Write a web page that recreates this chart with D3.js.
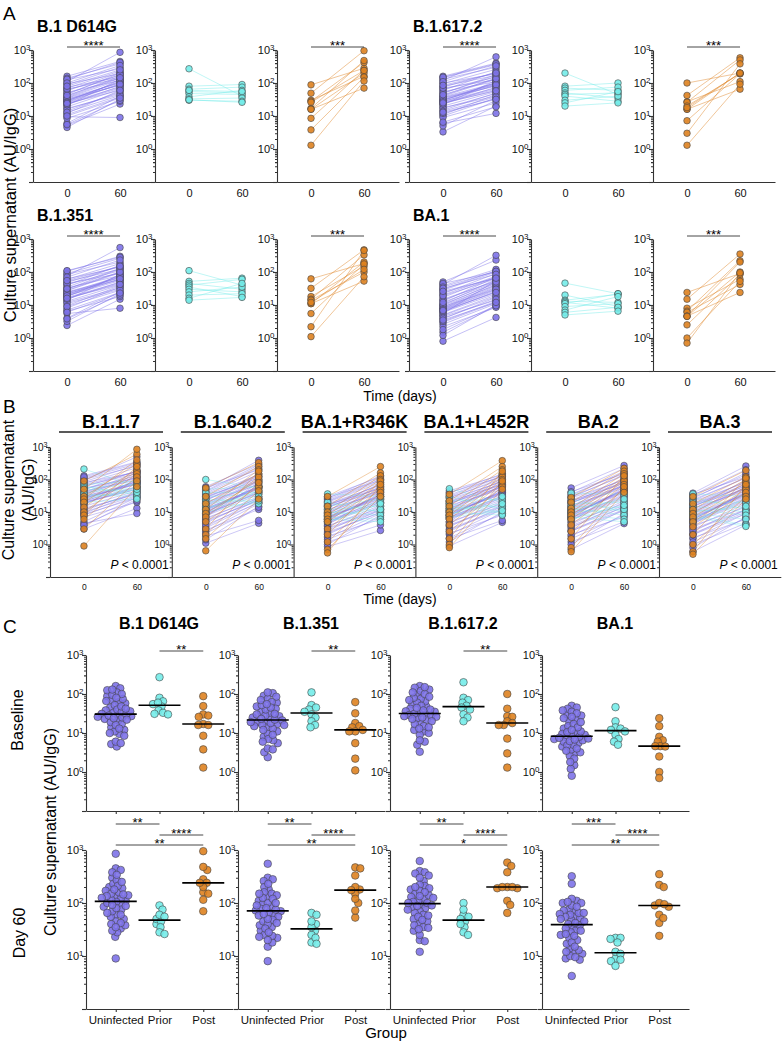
<!DOCTYPE html>
<html>
<head>
<meta charset="utf-8">
<script src="https://cdn.jsdelivr.net/npm/d3@7"></script>
<style>
  body { margin: 0; background: #fff; }
  svg { font-family: "Liberation Sans", Arial, Helvetica, sans-serif; }
  .axis text { font-family: "Liberation Sans", Arial, Helvetica, sans-serif; fill: #111; }
  .axis path, .axis line { stroke: #333; stroke-width: 1.1; }
  .ttl { font-weight: bold; font-size: 16px; }
</style>
</head>
<body>
<svg id="fig" width="784" height="1042"></svg>
<script>
// ---- groups ----
const groups = ["Uninfected", "Prior", "Post"];
const groupColor = ["#7d72e8", "#74ece9", "#de8220"];
const days = [0, 60];

// ---- panel A / C variants (AU/IgG, day 0 and day 60, same subject order) ----
const d614gUninf0 = [29, 160, 12, 45, 5.2, 88, 33, 21, 140, 9.5, 62, 27, 4.5, 110, 38, 17, 70, 25, 6, 52, 31, 14, 125, 40, 23, 8.5, 95, 35, 19, 58, 11, 28, 75, 16, 130, 30, 5.5, 48, 22, 66, 13, 36, 100, 26, 10, 42, 24, 80];
const d614gUninf60 = [110, 450, 60, 200, 23, 300, 85, 130, 380, 9, 170, 95, 33, 850, 140, 45, 230, 75, 40, 120, 105, 55, 270, 160, 70, 28, 190, 100, 65, 210, 38, 115, 150, 50, 420, 88, 30, 180, 80, 135, 42, 125, 340, 92, 35, 145, 60, 250];
const d614gPrior0 = [270, 80, 65, 55, 48, 38, 33, 30, 60, 31];
const d614gPrior60 = [40, 90, 75, 50, 45, 60, 35, 28, 55, 26];
const d614gPost0 = [88, 49, 30, 28, 26, 17, 16, 16, 8.5, 3.8, 1.3];
const d614gPost60 = [280, 950, 160, 420, 240, 480, 70, 200, 240, 150, 115];

const b1351Uninf0 = [20, 105, 8, 35, 2.4, 60, 24, 14, 90, 5.5, 42, 19, 3.2, 75, 27, 11, 48, 17, 4, 33, 21, 9.5, 85, 28, 16, 6.5, 62, 25, 13, 40, 7, 18, 52, 12, 110, 22, 3.8, 30, 15, 45, 9, 23, 70, 19, 6, 31, 16, 55];
const b1351Uninf60 = [70, 300, 35, 130, 15, 180, 60, 85, 260, 8, 110, 55, 22, 550, 95, 30, 150, 48, 25, 78, 72, 38, 200, 100, 45, 18, 140, 66, 40, 160, 24, 80, 120, 33, 280, 58, 20, 125, 50, 90, 28, 75, 230, 62, 23, 100, 42, 150];
const b1351Prior0 = [110, 52, 45, 40, 35, 30, 25, 20, 16, 14];
const b1351Prior60 = [40, 65, 30, 60, 18, 25, 35, 22, 45, 17];
const b1351Post0 = [62, 32, 18, 15, 14, 11, 11, 5.5, 2.2, 1.1, 12];
const b1351Post60 = [180, 470, 150, 330, 100, 200, 53, 175, 450, 72, 120];

const b16172Uninf0 = [30, 160, 11, 48, 3.3, 95, 35, 22, 145, 6, 65, 28, 5, 120, 40, 18, 75, 26, 10, 55, 32, 15, 130, 42, 24, 9, 100, 36, 20, 60, 12, 29, 80, 17, 150, 31, 6.5, 50, 23, 70, 14, 38, 110, 27, 13, 44, 25, 85];
const b16172Uninf60 = [95, 400, 45, 180, 20, 260, 80, 120, 360, 12, 150, 70, 30, 620, 130, 40, 210, 65, 35, 110, 100, 50, 300, 140, 60, 25, 190, 90, 55, 220, 34, 105, 170, 48, 380, 85, 19, 160, 75, 125, 38, 100, 330, 88, 32, 135, 58, 200];
const b16172Prior0 = [200, 80, 70, 60, 50, 45, 40, 30, 25, 20];
const b16172Prior60 = [45, 100, 60, 75, 35, 50, 28, 40, 55, 25];
const b16172Post0 = [100, 42, 27, 26, 20, 16, 16, 7.2, 3, 1.3, 18];
const b16172Post60 = [200, 580, 110, 500, 190, 200, 65, 190, 380, 92, 200];

const ba1Uninf0 = [7.8, 50, 3, 13, 0.8, 30, 9, 5.5, 42, 1.5, 20, 7, 1.2, 38, 10, 4.5, 22, 6.5, 2.6, 15, 8, 3.8, 45, 11, 6, 2.2, 28, 9.5, 5, 17, 3.2, 7.5, 24, 4.8, 35, 8.5, 1.8, 14, 6.2, 19, 4, 10.5, 32, 7.2, 3.5, 12, 6.8, 26];
const ba1Uninf60 = [35, 230, 12, 70, 4.2, 110, 30, 55, 320, 9, 75, 28, 10, 120, 48, 14, 90, 25, 11, 52, 38, 17, 100, 60, 22, 8.5, 100, 40, 20, 72, 13, 33, 65, 18, 105, 42, 9.5, 55, 26, 62, 15, 45, 85, 30, 12, 50, 24, 65];
const ba1Prior0 = [46, 20, 14, 13, 12, 11, 9, 7, 6, 5];
const ba1Prior60 = [22, 9, 21, 12, 8, 22, 11, 18, 8.5, 6.5];
const ba1Post0 = [24, 15, 8, 6.5, 6, 4.6, 4.6, 4.5, 2.5, 1, 0.7];
const ba1Post60 = [90, 350, 60, 220, 42, 200, 24, 100, 85, 52, 95];

// ---- panel B variants ----
const b117Uninf0 = [25, 130, 9, 40, 3, 75, 28, 17, 110, 4.5, 50, 22, 3.8, 95, 32, 13, 60, 20, 5, 44, 26, 11, 100, 35, 19, 7, 80, 30, 15, 48, 8, 23, 65, 12, 120, 27, 4, 38, 18, 55, 10, 30, 85, 21, 8.5, 36, 20, 70];
const b117Uninf60 = [80, 350, 40, 160, 13, 230, 70, 100, 300, 9, 130, 60, 25, 500, 110, 35, 180, 55, 28, 95, 85, 42, 260, 120, 50, 20, 170, 75, 45, 190, 30, 90, 150, 38, 330, 72, 22, 140, 60, 110, 32, 85, 280, 78, 27, 120, 50, 170];
const b117Prior0 = [210, 70, 60, 55, 50, 40, 35, 30, 25, 20];
const b117Prior60 = [60, 90, 35, 70, 45, 55, 30, 40, 50, 25];
const b117Post0 = [90, 50, 30, 25, 20, 14, 10, 8, 6, 3, 0.9];
const b117Post60 = [600, 850, 300, 400, 200, 180, 150, 250, 120, 90, 60];

const b16402Uninf0 = [10, 60, 3.5, 18, 1.1, 35, 12, 7, 50, 1.8, 25, 9, 1.4, 42, 14, 5.5, 28, 8.5, 2.5, 20, 11, 4.5, 55, 15, 7.5, 2.8, 32, 13, 6, 22, 3.2, 10, 30, 6.5, 45, 12, 2.2, 17, 8, 24, 5, 12.5, 38, 9.5, 4, 16, 8.8, 27];
const b16402Uninf60 = [60, 300, 25, 120, 4.5, 180, 50, 80, 390, 5.5, 100, 45, 15, 250, 75, 22, 130, 40, 18, 70, 62, 28, 200, 85, 35, 12, 140, 55, 30, 150, 20, 65, 110, 26, 280, 52, 14, 95, 42, 90, 24, 60, 220, 58, 19, 88, 38, 125];
const b16402Prior0 = [100, 50, 40, 30, 25, 20, 18, 15, 12, 10];
const b16402Prior60 = [55, 60, 40, 35, 20, 30, 25, 18, 45, 22];
const b16402Post0 = [55, 30, 18, 12, 9, 7, 5, 3, 2, 1.5, 0.64];
const b16402Post60 = [330, 250, 150, 200, 100, 120, 60, 180, 80, 45, 25];

const r346kUninf0 = [6, 30, 2, 11, 0.85, 20, 7, 4, 26, 1.2, 14, 5.5, 1, 24, 8, 3.2, 16, 5, 1.6, 12, 6.5, 2.6, 28, 9, 4.5, 1.8, 18, 7.5, 3.6, 13, 2.2, 6.2, 17, 3.8, 22, 7.2, 1.4, 10, 5, 15, 3, 8.5, 21, 5.8, 2.4, 9.5, 4.8, 16];
const r346kUninf60 = [30, 120, 12, 60, 2.7, 80, 25, 40, 130, 4, 55, 22, 8, 110, 42, 12, 70, 20, 9, 38, 32, 15, 95, 48, 18, 6, 65, 28, 16, 75, 10, 35, 52, 13, 100, 26, 7, 50, 24, 45, 11, 30, 90, 34, 9.5, 44, 20, 58];
const r346kPrior0 = [36, 20, 15, 12, 10, 9, 8, 7, 6, 5];
const r346kPrior60 = [30, 10, 25, 15, 8, 20, 12, 6, 5, 18];
const r346kPost0 = [30, 15, 10, 8, 6, 5, 3, 2, 1.2, 0.7, 0.55];
const r346kPost60 = [250, 160, 130, 100, 80, 60, 50, 90, 40, 30, 70];

const l452rUninf0 = [8, 45, 2.5, 14, 0.9, 28, 9.5, 5, 38, 1.5, 18, 7, 1.2, 33, 11, 4, 22, 6.5, 2, 16, 8.5, 3.5, 40, 12, 6, 2.2, 25, 10, 4.5, 17, 3, 7.8, 21, 5, 30, 9, 1.6, 13, 6.8, 19, 3.8, 11, 27, 7.4, 2.8, 12.5, 6.2, 20];
const l452rUninf60 = [40, 140, 15, 80, 4.8, 100, 35, 55, 150, 5.5, 70, 30, 10, 130, 60, 16, 90, 28, 12, 50, 42, 20, 120, 65, 24, 8, 85, 38, 22, 95, 13, 45, 70, 18, 125, 36, 9, 65, 32, 58, 15, 40, 110, 46, 12, 60, 27, 75];
const l452rPrior0 = [52, 30, 22, 18, 15, 13, 11, 10, 8, 7];
const l452rPrior60 = [20, 12, 25, 10, 9, 15, 18, 8, 30, 11];
const l452rPost0 = [35, 22, 15, 10, 8, 6, 4, 2.5, 1.5, 1, 0.8];
const l452rPost60 = [380, 250, 200, 150, 120, 100, 80, 60, 180, 90, 50];

const ba2Uninf0 = [8, 55, 2.5, 15, 0.7, 30, 9, 5, 40, 1.2, 19, 7, 1, 35, 11, 3.8, 23, 6.5, 1.8, 16, 8.5, 3.2, 42, 12, 5.8, 2, 27, 10, 4.2, 18, 2.8, 7.6, 22, 4.8, 32, 9.2, 1.5, 14, 6.6, 20, 3.5, 11, 28, 7.2, 2.6, 13, 6, 21];
const ba2Uninf60 = [45, 270, 15, 90, 4.4, 130, 38, 60, 220, 5, 80, 32, 9, 160, 65, 16, 100, 30, 12, 55, 48, 20, 150, 70, 25, 7, 95, 42, 22, 110, 12, 50, 75, 18, 180, 40, 8, 70, 35, 62, 14, 45, 140, 52, 11, 65, 28, 85];
const ba2Prior0 = [38, 25, 18, 15, 13, 11, 10, 9, 7, 6];
const ba2Prior60 = [35, 10, 20, 14, 8, 25, 12, 6, 5, 16];
const ba2Post0 = [28, 20, 13, 10, 8, 6, 4, 2.5, 1.5, 0.8, 0.6];
const ba2Post60 = [220, 180, 150, 120, 100, 90, 70, 50, 130, 60, 40];

const ba3Uninf0 = [6, 38, 2, 12, 0.6, 24, 7, 4, 33, 1, 15, 5.5, 0.8, 28, 9, 3, 18, 5, 1.5, 13, 6.5, 2.5, 35, 10, 4.5, 1.6, 21, 8, 3.4, 14, 2.2, 6, 17, 3.8, 26, 7.4, 1.2, 11, 5.2, 16, 2.8, 8.8, 22, 5.8, 2, 10, 4.8, 17.5];
const ba3Uninf60 = [35, 260, 12, 75, 4, 110, 30, 48, 200, 4.5, 65, 26, 7, 140, 52, 12, 85, 24, 9, 45, 38, 16, 120, 58, 20, 6, 80, 34, 18, 95, 10, 40, 62, 14, 160, 32, 6.5, 58, 28, 50, 11, 36, 115, 42, 9, 55, 22, 70];
const ba3Prior0 = [36, 28, 20, 15, 12, 10, 9, 8, 7, 5];
const ba3Prior60 = [30, 12, 20, 10, 8, 15, 6, 4, 3.6, 25];
const ba3Post0 = [30, 18, 12, 9, 7, 5, 3.5, 2, 1, 0.6, 0.5];
const ba3Post60 = [190, 120, 100, 80, 60, 50, 40, 110, 30, 70, 25];

// significance labels
const aStars = ["****", null, "***"];
const cTopStars = ["**", "**", "**", null];
const cBottomStars = [["**", "****", "**"], ["**", "****", "**"], ["**", "****", "*"], ["***", "****", "**"]];

// tables built from the arrays above
const mainVariants = [
  { name: "B.1 D614G", sets: [[d614gUninf0, d614gUninf60], [d614gPrior0, d614gPrior60], [d614gPost0, d614gPost60]] },
  { name: "B.1.351", sets: [[b1351Uninf0, b1351Uninf60], [b1351Prior0, b1351Prior60], [b1351Post0, b1351Post60]] },
  { name: "B.1.617.2", sets: [[b16172Uninf0, b16172Uninf60], [b16172Prior0, b16172Prior60], [b16172Post0, b16172Post60]] },
  { name: "BA.1", sets: [[ba1Uninf0, ba1Uninf60], [ba1Prior0, ba1Prior60], [ba1Post0, ba1Post60]] }
];
const otherVariants = [
  { name: "B.1.1.7", sets: [[b117Uninf0, b117Uninf60], [b117Prior0, b117Prior60], [b117Post0, b117Post60]] },
  { name: "B.1.640.2", sets: [[b16402Uninf0, b16402Uninf60], [b16402Prior0, b16402Prior60], [b16402Post0, b16402Post60]] },
  { name: "BA.1+R346K", sets: [[r346kUninf0, r346kUninf60], [r346kPrior0, r346kPrior60], [r346kPost0, r346kPost60]] },
  { name: "BA.1+L452R", sets: [[l452rUninf0, l452rUninf60], [l452rPrior0, l452rPrior60], [l452rPost0, l452rPost60]] },
  { name: "BA.2", sets: [[ba2Uninf0, ba2Uninf60], [ba2Prior0, ba2Prior60], [ba2Post0, ba2Post60]] },
  { name: "BA.3", sets: [[ba3Uninf0, ba3Uninf60], [ba3Prior0, ba3Prior60], [ba3Post0, ba3Post60]] }
];

const svg = d3.select("#fig");
const xDom = [-38.5, 99.6];   // day axis extent so 0 and 60 sit inside the panel

// log y axis with minor ticks and 10^n labels
function logAxis(g, y, lo, hi, labelFrom, fs) {
  const minor = [];
  for (let e = lo; e < hi; e++) for (let k = 2; k <= 9; k++) minor.push(k * Math.pow(10, e));
  g.append("g").attr("class", "axis")
    .call(d3.axisLeft(y).tickValues(minor).tickSize(2).tickFormat(""))
    .select(".domain").remove();
  const major = d3.range(lo, hi + 1).map(e => Math.pow(10, e));
  const ax = g.append("g").attr("class", "axis")
    .call(d3.axisLeft(y).tickValues(major).tickSize(4).tickSizeOuter(0).tickPadding(-1.5));
  ax.attr("font-size", fs);
  ax.selectAll("text").text(null).each(function (d) {
    const e = Math.round(Math.log10(d));
    if (e < labelFrom) return;
    const t = d3.select(this);
    t.append("tspan").text("10");
    t.append("tspan").attr("dy", "-0.45em").attr("font-size", "0.72em").text(e);
  });
}

function dots(g, pts, color, r) {
  g.selectAll(null).data(pts).join("circle")
    .attr("cx", d => d[0]).attr("cy", d => d[1]).attr("r", r)
    .attr("fill", color).attr("fill-opacity", 0.9)
    .attr("stroke", "#444").attr("stroke-width", 0.6);
}

function pairLines(g, x, y, v0, v60, color, w, op) {
  g.selectAll(null).data(v0.map((v, i) => [v, v60[i]])).join("line")
    .attr("x1", x(0)).attr("x2", x(60))
    .attr("y1", d => y(d[0])).attr("y2", d => y(d[1]))
    .attr("stroke", color).attr("stroke-width", w).attr("stroke-opacity", op);
}

function bracket(g, x1, x2, yy, label) {
  g.append("line").attr("x1", x1).attr("x2", x2).attr("y1", yy).attr("y2", yy)
    .attr("stroke", "#333").attr("stroke-width", 0.9);
  g.append("text").attr("x", (x1 + x2) / 2).attr("y", yy + 2.5)
    .attr("text-anchor", "middle").attr("font-size", 13).text(label);
}

// ================= Panel A =================
svg.append("text").attr("x", 3).attr("y", 20).attr("font-size", 19).text("A");
const aX = [33, 409], aTop = [50, 239], aDec = 33, aW = 122;
mainVariants.forEach((v, vi) => {
  const [col, row] = [[0, 0], [0, 1], [1, 0], [1, 1]][vi];
  const ax0 = aX[col], top = aTop[row], bottom = top + 4 * aDec;
  const y = d3.scaleLog().domain([0.1, 1000]).range([bottom, top]);
  svg.append("text").attr("class", "ttl").attr("x", ax0 + 4).attr("y", top - 18).text(v.name);
  v.sets.forEach((s, k) => {
    const ax = ax0 + k * aW;
    const x = d3.scaleLinear().domain(xDom).range([ax, ax + aW]);
    const g = svg.append("g");
    g.append("g").attr("class", "axis").attr("transform", `translate(0,${bottom})`)
      .call(d3.axisBottom(x).tickValues(days).tickSize(0).tickSizeOuter(0).tickPadding(7))
      .attr("font-size", 11);
    logAxis(g.append("g").attr("transform", `translate(${ax},0)`), y, -1, 3, 0, 11);
    pairLines(g, x, y, s[0], s[1], groupColor[k], 0.7, 0.65);
    dots(g, s[0].map(d => [x(0), y(d)]).concat(s[1].map(d => [x(60), y(d)])), groupColor[k], 3.3);
    if (aStars[k]) bracket(g, x(0), x(60), top - 3, aStars[k]);
  });
});
svg.append("text").attr("transform", "translate(16,215) rotate(-90)").attr("text-anchor", "middle")
  .attr("font-size", 16.5).text("Culture supernatant (AU/IgG)");
svg.append("text").attr("x", 400).attr("y", 401).attr("text-anchor", "middle").attr("font-size", 14).text("Time (days)");

// ================= Panel B =================
svg.append("text").attr("x", 3).attr("y", 413).attr("font-size", 19).text("B");
const bX0 = 50, bStep = 121.8, bTop = 447, bDec = 32.5;
otherVariants.forEach((v, i) => {
  const ax = bX0 + i * bStep, bottom = bTop + 4 * bDec;
  const y = d3.scaleLog().domain([0.1, 1000]).range([bottom, bTop]);
  const x = d3.scaleLinear().domain(xDom).range([ax, ax + bStep]);
  const g = svg.append("g");
  g.append("text").attr("x", ax + 61).attr("y", 428).attr("text-anchor", "middle")
    .attr("font-weight", "bold").attr("font-size", 18).text(v.name);
  g.append("line").attr("x1", ax + 9).attr("x2", ax + 113).attr("y1", 432).attr("y2", 432)
    .attr("stroke", "#222").attr("stroke-width", 1.3);
  g.append("g").attr("class", "axis").attr("transform", `translate(0,${bottom})`)
    .call(d3.axisBottom(x).tickValues(days).tickSize(0).tickSizeOuter(0).tickPadding(7))
    .attr("font-size", 8.5);
  logAxis(g.append("g").attr("transform", `translate(${ax},0)`), y, -1, 3, 0, 10);
  v.sets.forEach((s, k) => pairLines(g, x, y, s[0], s[1], groupColor[k], 0.6, 0.65));
  v.sets.forEach((s, k) => dots(g, s[0].map(d => [x(0), y(d)]).concat(s[1].map(d => [x(60), y(d)])), groupColor[k], 3.3));
  const p = g.append("text").attr("x", ax + bStep - 3).attr("y", bottom - 8).attr("text-anchor", "end").attr("font-size", 12);
  p.append("tspan").attr("font-style", "italic").text("P");
  p.append("tspan").text(" < 0.0001");
});
const bl = svg.append("text").attr("transform", "translate(0,490) rotate(-90)").attr("text-anchor", "middle").attr("font-size", 16);
bl.append("tspan").attr("x", 0).attr("y", 14).text("Culture supernatant");
bl.append("tspan").attr("x", 0).attr("y", 34).text("(AU/IgG)");
svg.append("text").attr("x", 400).attr("y", 604).attr("text-anchor", "middle").attr("font-size", 14).text("Time (days)");

// ================= Panel C =================
svg.append("text").attr("x", 3).attr("y", 633).attr("font-size", 19).text("C");
const cX0 = 86, cStep = 152, cW = 147, cR = 3.8;
const cRows = [
  { top: 655, dec: 39, lo: -1, idx: 0, labelFrom: 0 },
  { top: 850, dec: 53, lo: 0, idx: 1, labelFrom: 1 }
];

// simple deterministic beeswarm: place each point at the nearest free x offset
function swarm(ys, d) {
  const order = d3.range(ys.length).sort((a, b) => ys[a] - ys[b]);
  const placed = [], off = new Array(ys.length);
  for (const i of order) {
    let best = 0;
    for (let k = 0; k < 400; k++) {
      const dx = (k % 2 ? 1 : -1) * Math.ceil(k / 2) * 0.5;
      if (placed.every(p => (p.x - dx) ** 2 + (p.y - ys[i]) ** 2 >= d * d)) { best = dx; break; }
    }
    placed.push({ x: best, y: ys[i] });
    off[i] = best;
  }
  return off;
}

mainVariants.forEach((v, i) => {
  const ax = cX0 + i * cStep;
  const x = d3.scalePoint().domain(groups).range([ax, ax + cW]).padding(0.68);
  svg.append("text").attr("x", ax + 73).attr("y", 629).attr("text-anchor", "middle")
    .attr("font-weight", "bold").attr("font-size", 16).text(v.name);
  cRows.forEach((row, ri) => {
    const bottom = row.top + (3 - row.lo) * row.dec;
    const y = d3.scaleLog().domain([Math.pow(10, row.lo), 1000]).range([bottom, row.top]);
    const g = svg.append("g");
    const xa = g.append("g").attr("class", "axis").attr("transform", `translate(0,${bottom})`)
      .call(d3.axisBottom(x).tickSize(3).tickSizeOuter(0).tickPadding(4));
    xa.attr("font-size", 11.5);
    if (ri === 0) xa.selectAll("text").remove();
    logAxis(g.append("g").attr("transform", `translate(${ax},0)`), y, row.lo, 3, row.labelFrom, 11);
    v.sets.forEach((s, k) => {
      const vals = s[row.idx];
      const ys = vals.map(d => y(d));
      const off = swarm(ys, cR * 1.3);
      dots(g, ys.map((yy, j) => [x(groups[k]) + off[j], yy]), groupColor[k], cR);
      const med = d3.median(vals);
      g.append("line").attr("x1", x(groups[k]) - 21).attr("x2", x(groups[k]) + 21)
        .attr("y1", y(med)).attr("y2", y(med)).attr("stroke", "#000").attr("stroke-width", 1.6);
    });
    if (ri === 0 && cTopStars[i]) bracket(g, x("Prior"), x("Post"), 651, cTopStars[i]);
    if (ri === 1) {
      const st = cBottomStars[i];
      bracket(g, x("Uninfected"), x("Prior"), 824, st[0]);
      bracket(g, x("Prior"), x("Post"), 835, st[1]);
      bracket(g, x("Uninfected"), x("Post"), 845, st[2]);
    }
  });
});
svg.append("text").attr("transform", "translate(23,720) rotate(-90)").attr("text-anchor", "middle").attr("font-size", 16).text("Baseline");
svg.append("text").attr("transform", "translate(25,933) rotate(-90)").attr("text-anchor", "middle").attr("font-size", 16).text("Day 60");
svg.append("text").attr("transform", "translate(56,832) rotate(-90)").attr("text-anchor", "middle").attr("font-size", 16).text("Culture supernatant (AU/IgG)");
svg.append("text").attr("x", 386).attr("y", 1038).attr("text-anchor", "middle").attr("font-size", 15).text("Group");
</script>
</body>
</html>
